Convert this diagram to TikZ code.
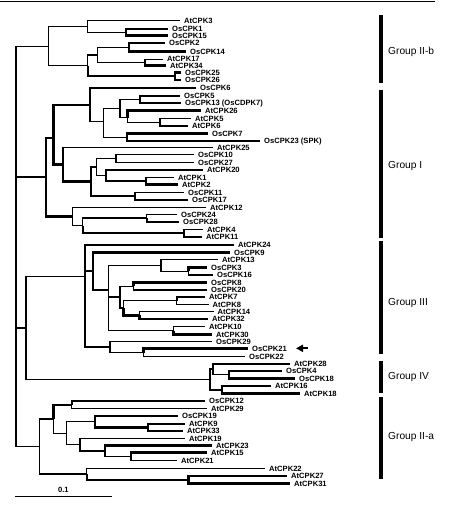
\documentclass[tikz,border=0pt]{standalone}
\usepackage{fontspec}
\setmainfont{Liberation Sans}
\usepackage{tikz}
\usetikzlibrary{arrows.meta,positioning}

\begin{document}
\begin{tikzpicture}[x=1pt, y=-1pt,
    br/.style={line width=1.2pt},
    tk/.style={line width=2.4pt},
    leaf/.style={anchor=west, inner xsep=4pt, inner ysep=0pt, text height=5.4pt, text depth=0pt, font=\fontsize{7.6}{8}\selectfont\bfseries},
    grp/.style={anchor=west, inner sep=0pt, font=\fontsize{10.2}{12}\selectfont},
    gbar/.style={line width=3.3pt}]
        \useasboundingbox (0,0) rectangle (453,516);
        \draw[line width=1.4pt] (0,1.5) -- (435,1.5);

        % Unutarnji cvorovi
        \coordinate (root) at (16,246);
        \coordinate (iib) at (48.3,46.5);
        \coordinate (b1) at (87.7,26.6);
        \coordinate (b11) at (126,32.5);
        \coordinate (b2) at (87.7,65.7);
        \coordinate (b21) at (97.7,55);
        \coordinate (b211) at (129,47.5);
        \coordinate (b212) at (145,62.5);
        \coordinate (b22) at (175,76.3);
        \coordinate (gi) at (46,177);
        \coordinate (i1) at (53.3,138);
        \coordinate (i11) at (90,105);
        \coordinate (i111) at (103.3,121.7);
        \coordinate (i1111) at (120,108.3);
        \coordinate (i11111) at (140,99.5);
        \coordinate (i11112) at (127.3,117.5);
        \coordinate (i111121) at (160,122.3);
        \coordinate (i1112) at (126.7,137.3);
        \coordinate (i12) at (63,164.5);
        \coordinate (i121) at (91,181.6);
        \coordinate (i1211) at (96.7,167);
        \coordinate (i12111) at (116,158.3);
        \coordinate (i12112) at (106,175.5);
        \coordinate (i121121) at (146,181);
        \coordinate (i1212) at (135,196.2);
        \coordinate (i2) at (72.7,216.5);
        \coordinate (i21) at (82.7,225.7);
        \coordinate (i211) at (146.7,218);
        \coordinate (i212) at (184,233);
        \coordinate (g34) at (26,328);
        \coordinate (iii) at (85,276.7);
        \coordinate (iii1) at (93,271);
        \coordinate (iii11) at (108.3,290);
        \coordinate (iii111) at (161,265.3);
        \coordinate (iii1111) at (188.3,271.2);
        \coordinate (iii112) at (120,297);
        \coordinate (iii1121) at (133.3,286.2);
        \coordinate (iii1122) at (123.3,308);
        \coordinate (iii11221) at (176.7,300.5);
        \coordinate (iii11222) at (139.3,315.4);
        \coordinate (iii113) at (173.3,330.5);
        \coordinate (iii2) at (110,346.7);
        \coordinate (iii21) at (143.3,352.5);
        \coordinate (iv) at (210,379.4);
        \coordinate (iv1) at (213,369);
        \coordinate (iv11) at (229,374.7);
        \coordinate (iv2) at (222,389.7);
        \coordinate (iia) at (39.3,446.5);
        \coordinate (a1) at (53.3,419);
        \coordinate (a11) at (71.7,404.7);
        \coordinate (a12) at (66.7,433.2);
        \coordinate (a121) at (95,421.7);
        \coordinate (a1211) at (148,427.3);
        \coordinate (a122) at (80,444.7);
        \coordinate (a1221) at (105,451);
        \coordinate (a12211) at (131,456.5);
        \coordinate (a2) at (86.7,474);
        \coordinate (a21) at (188.3,479.7);

        % Listovi
        \node[leaf] (atcpk3) at (180,20.7) {AtCPK3};
        \node[leaf] (oscpk1) at (168,29.3) {OsCPK1};
        \node[leaf] (oscpk15) at (168,35.7) {OsCPK15};
        \node[leaf] (oscpk2) at (165,43.3) {OsCPK2};
        \node[leaf] (oscpk14) at (186,51.7) {OsCPK14};
        \node[leaf] (atcpk17) at (163,59.3) {AtCPK17};
        \node[leaf] (atcpk34) at (166,65.7) {AtCPK34};
        \node[leaf] (oscpk25) at (181,72.7) {OsCPK25};
        \node[leaf] (oscpk26) at (181,80) {OsCPK26};
        \node[leaf] (oscpk6) at (196,88.3) {OsCPK6};
        \node[leaf] (oscpk5) at (180,96) {OsCPK5};
        \node[leaf] (oscpk13) at (181,103) {OsCPK13 (OsCDPK7)};
        \node[leaf] (atcpk26) at (201,110.7) {AtCPK26};
        \node[leaf] (atcpk5) at (191,118.5) {AtCPK5};
        \node[leaf] (atcpk6) at (188,126) {AtCPK6};
        \node[leaf] (oscpk7) at (208,133.5) {OsCPK7};
        \node[leaf] (oscpk23) at (260,141) {OsCPK23 (SPK)};
        \node[leaf] (atcpk25) at (213,147.7) {AtCPK25};
        \node[leaf] (oscpk10) at (194,154.3) {OsCPK10};
        \node[leaf] (oscpk27) at (194,162.3) {OsCPK27};
        \node[leaf] (atcpk20) at (203,170) {AtCPK20};
        \node[leaf] (atcpk1) at (174,177.7) {AtCPK1};
        \node[leaf] (atcpk2) at (178,184.3) {AtCPK2};
        \node[leaf] (oscpk11) at (184,192.3) {OsCPK11};
        \node[leaf] (oscpk17) at (188,200) {OsCPK17};
        \node[leaf] (atcpk12) at (206,207.7) {AtCPK12};
        \node[leaf] (oscpk24) at (177,214.3) {OsCPK24};
        \node[leaf] (oscpk28) at (179,221.7) {OsCPK28};
        \node[leaf] (atcpk4) at (203,229.3) {AtCPK4};
        \node[leaf] (atcpk11) at (202,236.7) {AtCPK11};
        \node[leaf] (atcpk24) at (234,245) {AtCPK24};
        \node[leaf] (oscpk9) at (230,252.3) {OsCPK9};
        \node[leaf] (atcpk13) at (218,259.7) {AtCPK13};
        \node[leaf] (oscpk3) at (207,267.3) {OsCPK3};
        \node[leaf] (oscpk16) at (213,275) {OsCPK16};
        \node[leaf] (oscpk8) at (207,282.3) {OsCPK8};
        \node[leaf] (oscpk20) at (207,290) {OsCPK20};
        \node[leaf] (atcpk7) at (205,296.7) {AtCPK7};
        \node[leaf] (atcpk8) at (208.5,304.3) {AtCPK8};
        \node[leaf] (atcpk14) at (213.5,311.5) {AtCPK14};
        \node[leaf] (atcpk32) at (208,319.2) {AtCPK32};
        \node[leaf] (atcpk10) at (205,326.7) {AtCPK10};
        \node[leaf] (atcpk30) at (212,334.3) {AtCPK30};
        \node[leaf] (oscpk29) at (212,341.7) {OsCPK29};
        \node[leaf] (oscpk21) at (248,348.3) {OsCPK21};
        \node[leaf] (oscpk22) at (245,356.7) {OsCPK22};
        \node[leaf] (atcpk28) at (290,364) {AtCPK28};
        \node[leaf] (oscpk4) at (282,371) {OsCPK4};
        \node[leaf] (oscpk18) at (295,378.5) {OsCPK18};
        \node[leaf] (atcpk16) at (271,386) {AtCPK16};
        \node[leaf] (atcpk18) at (300,393.5) {AtCPK18};
        \node[leaf] (oscpk12) at (205,401) {OsCPK12};
        \node[leaf] (atcpk29) at (207,408.5) {AtCPK29};
        \node[leaf] (oscpk19) at (178,416) {OsCPK19};
        \node[leaf] (atcpk9) at (185,424) {AtCPK9};
        \node[leaf] (atcpk33) at (183,430.7) {AtCPK33};
        \node[leaf] (atcpk19) at (185,438.7) {AtCPK19};
        \node[leaf] (atcpk23) at (212,445.5) {AtCPK23};
        \node[leaf] (atcpk15) at (207,452.5) {AtCPK15};
        \node[leaf] (atcpk21) at (177,460.5) {AtCPK21};
        \node[leaf] (atcpk22) at (265,468.3) {AtCPK22};
        \node[leaf] (atcpk27) at (287,476) {AtCPK27};
        \node[leaf] (atcpk31) at (290,483.5) {AtCPK31};

        % Korijen
        \draw[br] (root) |- (iib) (root) |- (gi) (root) |- (iia);
        \draw[tk] (root) |- (g34);

        % Group II-b
        \draw[br] (iib) |- (b1) (iib) |- (b2);
        \draw[br] (b1) |- (atcpk3.west) (b1) |- (b11);
        \draw[tk] (b11) |- (oscpk1.west) (b11) |- (oscpk15.west);
        \draw[br] (b2) |- (b21) (b21) |- (b211) (b21) |- (b212);
        \draw[tk] (b2) |- (b22);
        \draw[tk] (b211) |- (oscpk2.west) (b211) |- (oscpk14.west);
        \draw[br] (b212) |- (atcpk17.west);
        \draw[tk] (b212) |- (atcpk34.west);
        \draw[tk] (b22) |- (oscpk25.west) (b22) |- (oscpk26.west);

        % Group I
        \draw[tk] (gi) |- (i1) (gi) |- (i2);
        \draw[tk] (i1) |- (i11) (i1) |- (i12);
        \draw[tk] (i11) |- (oscpk6.west);
        \draw[br] (i11) |- (i111) (i111) |- (i1111) (i111) |- (i1112);
        \draw[br] (i1111) |- (i11111) (i1111) |- (i11112);
        \draw[br] (i11111) |- (oscpk5.west) (i11111) |- (oscpk13.west);
        \draw[tk] (i11112) |- (atcpk26.west);
        \draw[br] (i11112) |- (i111121);
        \draw[br] (i111121) |- (atcpk5.west) (i111121) |- (atcpk6.west);
        \draw[tk] (i1112) |- (oscpk7.west) (i1112) |- (oscpk23.west);
        \draw[br] (i12) |- (atcpk25.west);
        \draw[tk] (i12) |- (i121) (i121) |- (i1211) (i121) |- (i1212);
        \draw[br] (i1211) |- (i12111) (i1211) |- (i12112);
        \draw[br] (i12111) |- (oscpk10.west) (i12111) |- (oscpk27.west);
        \draw[tk] (i12112) |- (atcpk20.west);
        \draw[br] (i12112) |- (i121121) (i121121) |- (atcpk1.west);
        \draw[tk] (i121121) |- (atcpk2.west);
        \draw[br] (i1212) |- (oscpk11.west);
        \draw[tk] (i1212) |- (oscpk17.west);
        \draw[br] (i2) |- (atcpk12.west) (i2) |- (i21) (i21) |- (i211);
        \draw[tk] (i21) |- (i212);
        \draw[br] (i211) |- (oscpk24.west);
        \draw[tk] (i211) |- (oscpk28.west);
        \draw[br] (i212) |- (atcpk4.west);
        \draw[tk] (i212) |- (atcpk11.west);

        % Group III
        \draw[br] (g34) |- (iii) (g34) |- (iv);
        \draw[br] (iii) |- (atcpk24.west);
        \draw[tk] (iii) |- (iii1) (iii) |- (iii2);
        \draw[tk] (iii1) |- (oscpk9.west) (iii1) |- (iii11);
        \draw[br] (iii11) |- (iii111) (iii11) |- (iii112) (iii11) |- (iii113);
        \draw[br] (iii111) |- (atcpk13.west) (iii111) |- (iii1111);
        \draw[tk] (iii1111) |- (oscpk3.west);
        \draw[br] (iii1111) |- (oscpk16.west);
        \draw[br] (iii112) |- (iii1121);
        \draw[tk] (iii112) |- (iii1122);
        \draw[tk] (iii1121) |- (oscpk8.west);
        \draw[br] (iii1121) |- (oscpk20.west);
        \draw[br] (iii1122) |- (iii11221);
        \draw[tk] (iii1122) |- (iii11222);
        \draw[tk] (iii11221) |- (atcpk7.west);
        \draw[br] (iii11221) |- (atcpk8.west) (iii11222) |- (atcpk14.west);
        \draw[tk] (iii11222) |- (atcpk32.west);
        \draw[br] (iii113) |- (atcpk10.west);
        \draw[tk] (iii113) |- (atcpk30.west);
        \draw[br] (iii2) |- (oscpk29.west) (iii2) |- (iii21);
        \draw[tk] (iii21) |- (oscpk21.west);
        \draw[br] (iii21) |- (oscpk22.west);

        % Strelica
        \coordinate (arrtail) at (308,348.3);
        \coordinate (arrtip) at (296,348.3);
        \draw[line width=2pt, -{Triangle[length=7pt, width=7pt]}] (arrtail) -- (arrtip);

        % Group IV
        \draw[tk] (iv) |- (iv1) (iv) |- (iv2);
        \draw[br] (iv1) |- (atcpk28.west) (iv1) |- (iv11) (iv11) |- (oscpk4.west);
        \draw[tk] (iv11) |- (oscpk18.west);
        \draw[br] (iv2) |- (atcpk16.west);
        \draw[tk] (iv2) |- (atcpk18.west);

        % Group II-a
        \draw[br] (iia) |- (a1) (iia) |- (a2);
        \draw[tk] (a1) |- (a11) (a11) |- (oscpk12.west);
        \draw[br] (a11) |- (atcpk29.west) (a1) |- (a12);
        \draw[br] (a12) |- (a121) (a12) |- (a122);
        \draw[br] (a121) |- (oscpk19.west);
        \draw[tk] (a121) |- (a1211) (a1211) |- (atcpk33.west);
        \draw[br] (a1211) |- (atcpk9.west);
        \draw[br] (a122) |- (atcpk19.west) (a122) |- (a1221);
        \draw[tk] (a1221) |- (atcpk23.west);
        \draw[br] (a1221) |- (a12211) (a12211) |- (atcpk21.west);
        \draw[tk] (a12211) |- (atcpk15.west);
        \draw[br] (a2) |- (atcpk22.west);
        \draw[tk] (a2) |- (a21) (a21) |- (atcpk27.west) (a21) |- (atcpk31.west);

        % Skupine
        \draw[gbar] (381,15) -- (381,82.7);
        \node[grp] (grpiib) at (388,51.7) {Group II-b};
        \draw[gbar] (381,90) -- (381,238.3);
        \node[grp] (grpi) at (388,166) {Group I};
        \draw[gbar] (381,240.7) -- (381,354.3);
        \node[grp] (grpiii) at (388,303.3) {Group III};
        \draw[gbar] (381,360.7) -- (381,393.3);
        \node[grp] (grpiv) at (388,376.7) {Group IV};
        \draw[gbar] (381,397.3) -- (381,479.3);
        \node[grp] (grpiia) at (388,437.3) {Group II-a};

        % Mjerilo
        \coordinate (scl) at (15,496.7);
        \coordinate (scr) at (111.7,496.7);
        \draw[line width=1.3pt] (scl) -- (scr) node[midway, above=0.5pt, font=\fontsize{7.6}{8}\selectfont\bfseries] (sclabel) {0.1};
    \end{tikzpicture}
\end{document}
